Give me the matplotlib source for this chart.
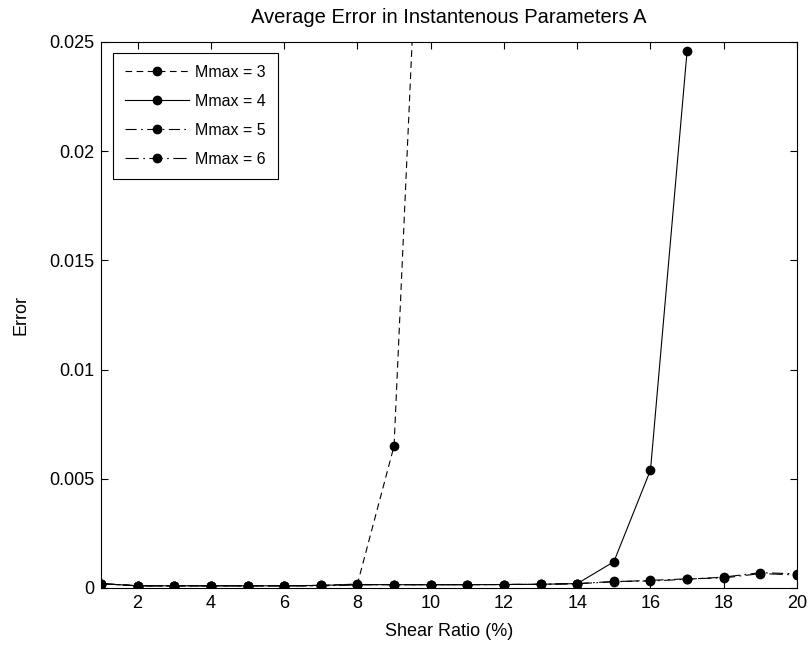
import matplotlib
matplotlib.use("Agg")
import matplotlib.pyplot as plt

plt.rcParams['font.family'] = ['Liberation Sans', 'DejaVu Sans']

# Shear ratio (%) and average error for each Mmax setting
x_m3 = [1, 2, 3, 4, 5, 6, 7, 8, 9, 10]
err_m3 = [0.0002, 0.0001, 0.0001, 0.0001, 0.0001, 0.0001, 0.00012, 0.00018, 0.0065, 0.044]

x_m4 = [1, 2, 3, 4, 5, 6, 7, 8, 9, 10, 11, 12, 13, 14, 15, 16, 17]
err_m4 = [0.0002, 0.0001, 0.0001, 0.0001, 0.0001, 0.0001, 0.00012, 0.00016, 0.00015, 0.00015,
          0.00015, 0.00016, 0.00017, 0.0002, 0.0012, 0.0054, 0.0246]

x_m5 = list(range(1, 21))
err_m5 = [0.0002, 0.0001, 0.0001, 0.0001, 0.0001, 0.0001, 0.0001, 0.00015, 0.00015, 0.00015,
          0.00015, 0.00016, 0.00017, 0.0002, 0.0003, 0.00032, 0.0004, 0.0005, 0.0007, 0.00065]

x_m6 = list(range(1, 21))
err_m6 = [0.0002, 0.0001, 0.0001, 0.0001, 0.0001, 0.0001, 0.0001, 0.00015, 0.00015, 0.00015,
          0.00015, 0.00016, 0.00017, 0.0002, 0.00028, 0.00035, 0.00042, 0.00046, 0.00066, 0.0006]

labels = ['Mmax = 3', 'Mmax = 4', 'Mmax = 5', 'Mmax = 6']
xticks = [2, 4, 6, 8, 10, 12, 14, 16, 18, 20]
yticks = [0, 0.005, 0.01, 0.015, 0.02, 0.025]
ytick_labels = ['0', '0.005', '0.01', '0.015', '0.02', '0.025']

fig = plt.figure(figsize=(8.09, 6.48), dpi=100)
ax = fig.add_axes([0.1248, 0.0926, 0.8604, 0.8426])

style = dict(color='black', linewidth=0.8, marker='o', markersize=6)
ax.plot(x_m3, err_m3, linestyle=(0, (6, 4)), label=labels[0], **style)
ax.plot(x_m4, err_m4, linestyle='-', label=labels[1], **style)
ax.plot(x_m5, err_m5, linestyle=(0, (10, 4, 1.5, 4)), label=labels[2], **style)
ax.plot(x_m6, err_m6, linestyle=(0, (12, 4, 1.5, 4)), label=labels[3], **style)

ax.set_xlim(1, 20)
ax.set_ylim(0, 0.025)
ax.set_xticks(xticks)
ax.set_yticks(yticks)
ax.set_yticklabels(ytick_labels)
ax.tick_params(direction='in', top=True, right=True, labelsize=13, length=5, width=0.8, pad=5)
for s in ax.spines.values():
    s.set_linewidth(0.8)

ax.set_title('Average Error in Instantenous Parameters A', fontsize=14.5, pad=14)
ax.set_xlabel('Shear Ratio (%)', fontsize=13, labelpad=8)
ax.set_ylabel('Error', fontsize=13, labelpad=14)

leg = ax.legend(loc='upper left', bbox_to_anchor=(0.017, 0.98), fontsize=11.5,
                fancybox=False, edgecolor='black', framealpha=1, handlelength=4.0,
                handletextpad=0.4, labelspacing=0.87, borderpad=0.75, borderaxespad=0)
leg.get_frame().set_linewidth(0.8)

fig.savefig('out.png', dpi=100)
